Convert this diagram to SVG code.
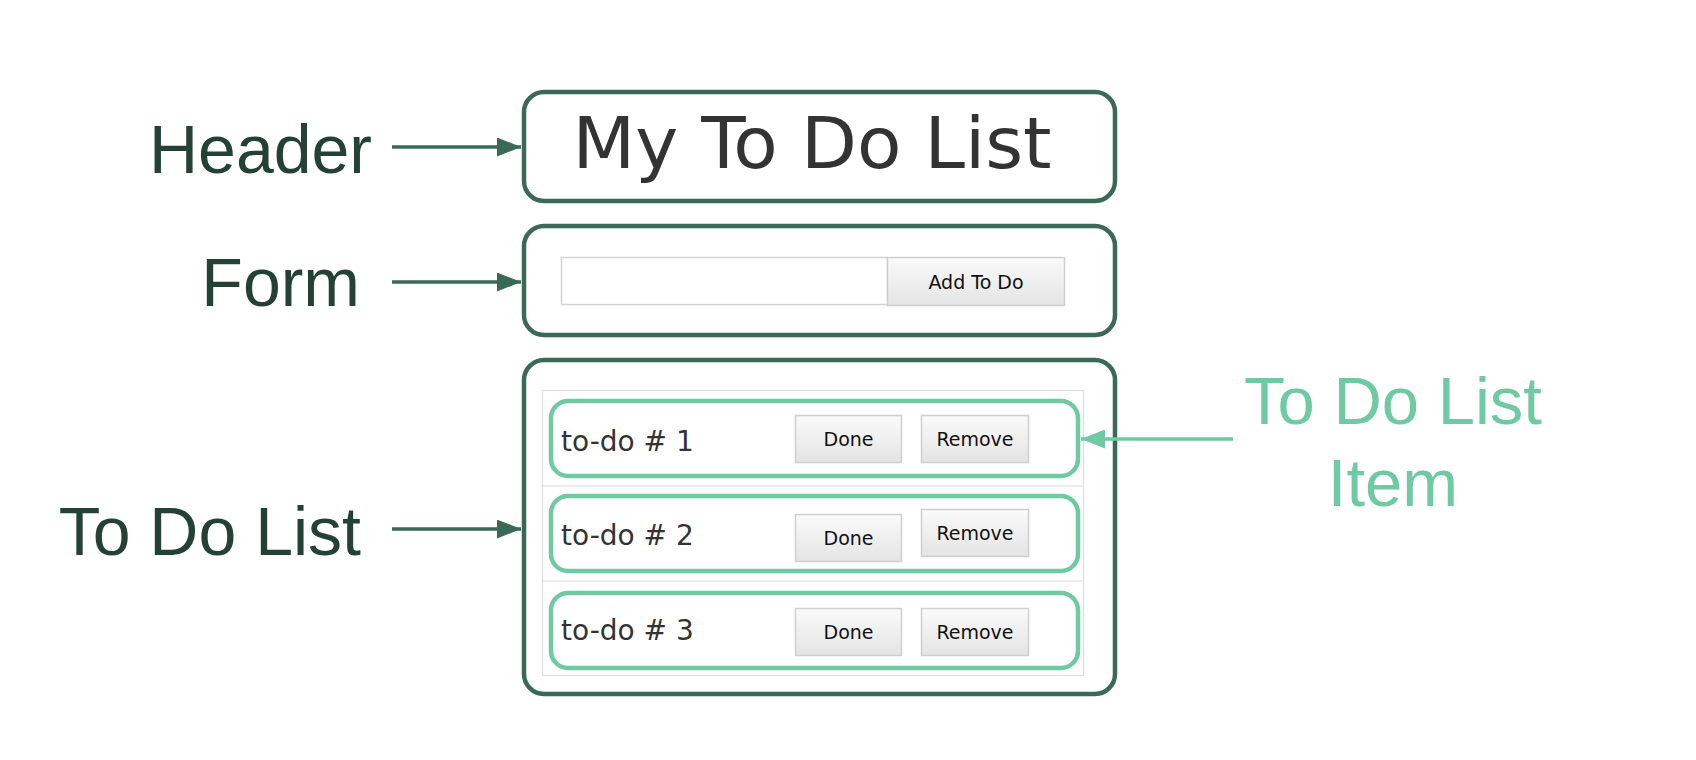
<svg xmlns="http://www.w3.org/2000/svg" width="1696" height="760" viewBox="0 0 1696 760">
<defs>
<linearGradient id="btn" x1="0" y1="0" x2="0" y2="1">
<stop offset="0" stop-color="#fafafa"/>
<stop offset="1" stop-color="#e4e4e4"/>
</linearGradient>
<marker id="ahDark" viewBox="0 0 24 19" refX="24" refY="9.5" markerWidth="24" markerHeight="19" markerUnits="userSpaceOnUse" orient="auto">
<path d="M0,0 L24,9.5 L0,19 z" fill="#3a6a55"/>
</marker>
<marker id="ahLight" viewBox="0 0 24 19" refX="24" refY="9.5" markerWidth="24" markerHeight="19" markerUnits="userSpaceOnUse" orient="auto">
<path d="M0,0 L24,9.5 L0,19 z" fill="#6fcaa3"/>
</marker>
</defs>
<style>
.panel{fill:#fff;stroke:#3a6a55;stroke-width:4.5}
.item{fill:none;stroke:#6fcaa3;stroke-width:4.5}
.btn{fill:url(#btn);stroke:#cfcfcf;stroke-width:1.5}
.btnt{font-family:"DejaVu Sans",sans-serif;font-size:19px;fill:#111;text-anchor:middle}
.todo{font-family:"DejaVu Sans",sans-serif;font-size:28px;fill:#333}
.lbl{font-family:"Liberation Sans",Arial,sans-serif;font-size:68px;fill:#234134}
.lbl2{font-family:"Liberation Sans",Arial,sans-serif;font-size:67px;fill:#6fcaa3;text-anchor:middle}
.conn{stroke:#3a6a55;stroke-width:3.5;fill:none}
.conn2{stroke:#6fcaa3;stroke-width:3.5;fill:none}
</style>
<rect width="1696" height="760" fill="#fff"/>

<g id="label-header"><text class="lbl" x="372" y="173" text-anchor="end">Header</text></g>
<g id="label-form"><text class="lbl" x="360" y="306" text-anchor="end">Form</text></g>
<g id="label-todolist"><text class="lbl" x="361" y="555" text-anchor="end">To Do List</text></g>
<g id="label-item"><text class="lbl2" x="1393" y="424">To Do List</text><text class="lbl2" x="1393" y="506">Item</text></g>

<g id="header">
<rect class="panel" x="524" y="92" width="591" height="109" rx="20"/>
<text x="812" y="168" font-family="DejaVu Sans,sans-serif" font-size="72" fill="#333" text-anchor="middle" textLength="479" lengthAdjust="spacingAndGlyphs">My To Do List</text>
</g>

<g id="form">
<rect class="panel" x="524" y="226" width="591" height="109" rx="20"/>
<rect x="561.5" y="257.5" width="326" height="47" fill="#fff" stroke="#d4d4d4" stroke-width="1.5"/>
<rect class="btn" x="887.5" y="257.5" width="177" height="48"/>
<text class="btnt" x="976" y="289" font-size="21">Add To Do</text>
</g>

<g id="todolist">
<rect class="panel" x="524" y="360" width="591" height="334" rx="20"/>
<rect x="542.5" y="390.5" width="541" height="285" fill="#fff" stroke="#dedede" stroke-width="1.2"/>
<line x1="542.5" y1="486" x2="1083.5" y2="486" stroke="#dedede" stroke-width="1.2"/>
<line x1="542.5" y1="581" x2="1083.5" y2="581" stroke="#dedede" stroke-width="1.2"/>
</g>

<g id="item1">
<rect class="item" x="551" y="401" width="527" height="75" rx="17"/>
<text class="todo" x="561" y="451">to-do # 1</text>
<rect class="btn" x="795.5" y="415.5" width="106" height="47"/>
<text class="btnt" x="848.5" y="446">Done</text>
<rect class="btn" x="921.5" y="415.5" width="107" height="47"/>
<text class="btnt" x="975" y="446">Remove</text>
</g>

<g id="item2">
<rect class="item" x="551" y="496" width="527" height="75" rx="17"/>
<text class="todo" x="561" y="545">to-do # 2</text>
<rect class="btn" x="795.5" y="514.5" width="106" height="47"/>
<text class="btnt" x="848.5" y="545">Done</text>
<rect class="btn" x="921.5" y="509.5" width="107" height="47"/>
<text class="btnt" x="975" y="540">Remove</text>
</g>

<g id="item3">
<rect class="item" x="551" y="593" width="527" height="75" rx="17"/>
<text class="todo" x="561" y="640">to-do # 3</text>
<rect class="btn" x="795.5" y="608.5" width="106" height="47"/>
<text class="btnt" x="848.5" y="639">Done</text>
<rect class="btn" x="921.5" y="608.5" width="107" height="47"/>
<text class="btnt" x="975" y="639">Remove</text>
</g>

<g id="connectors">
<line class="conn" x1="392" y1="147" x2="521" y2="147" marker-end="url(#ahDark)"/>
<line class="conn" x1="392" y1="282" x2="521" y2="282" marker-end="url(#ahDark)"/>
<line class="conn" x1="392" y1="529" x2="521" y2="529" marker-end="url(#ahDark)"/>
<line class="conn2" x1="1233" y1="439" x2="1081" y2="439" marker-end="url(#ahLight)"/>
</g>
</svg>
